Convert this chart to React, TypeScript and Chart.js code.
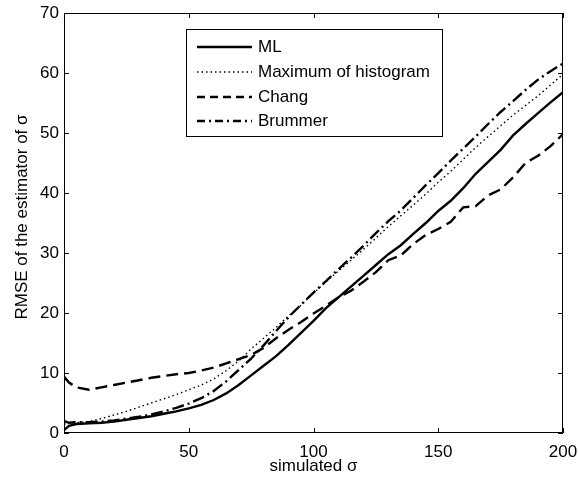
import React, { useEffect, useRef } from "react";
import { Chart, registerables } from "chart.js";

Chart.register(...registerables);

const sigma = [0, 2, 5, 10, 15, 20, 25, 30, 35, 40, 45, 50, 55, 60, 65, 70, 75, 80, 85, 90, 95, 100, 105, 110, 115, 120, 125, 130, 135, 140, 145, 150, 155, 160, 165, 170, 175, 180, 185, 190, 195, 200];

const mlValues = [0.5, 1.2, 1.5, 1.6, 1.7, 1.9, 2.2, 2.5, 2.8, 3.2, 3.6, 4.1, 4.7, 5.5, 6.6, 8.0, 9.6, 11.2, 12.8, 14.7, 16.7, 18.7, 20.8, 22.6, 24.4, 26.2, 28.0, 29.8, 31.3, 33.2, 35.0, 37.0, 38.7, 40.8, 43.2, 45.2, 47.2, 49.6, 51.5, 53.3, 55.1, 56.8];

const maxHistValues = [1.5, 1.6, 1.7, 1.9, 2.4, 3.0, 3.6, 4.3, 5.0, 5.7, 6.4, 7.2, 8.0, 9.0, 10.4, 12.0, 14.0, 15.8, 17.6, 19.5, 21.3, 23.3, 25.2, 27.0, 28.8, 30.6, 32.5, 34.4, 36.2, 38.0, 39.8, 41.8, 43.6, 45.6, 47.6, 49.4, 51.2, 53.0, 54.6, 56.2, 58.0, 59.8];

const changValues = [9.4, 8.4, 7.6, 7.2, 7.6, 8.0, 8.4, 8.8, 9.2, 9.5, 9.8, 10.0, 10.4, 10.9, 11.6, 12.3, 13.0, 14.2, 15.8, 17.2, 18.5, 19.9, 21.2, 22.6, 23.7, 25.2, 26.8, 28.8, 29.6, 31.5, 33.0, 34.0, 35.2, 37.6, 37.8, 39.6, 40.6, 42.6, 45.0, 46.2, 47.8, 49.8];

const brummerValues = [2.0, 1.7, 1.8, 1.8, 1.9, 2.1, 2.4, 2.7, 3.1, 3.6, 4.2, 4.9, 5.8, 7.0, 8.6, 10.5, 12.4, 14.6, 17.0, 19.3, 21.4, 23.4, 25.3, 27.3, 29.2, 31.2, 33.3, 35.3, 37.1, 39.2, 41.3, 43.3, 45.4, 47.4, 49.4, 51.5, 53.5, 55.3, 57.2, 58.9, 60.3, 61.6];

const seriesNames = ["ML", "Maximum of histogram", "Chang", "Brummer"];
const xTitle = "simulated σ";
const yTitle = "RMSE of the estimator of σ";

const FONT = "'Liberation Sans', Arial, Helvetica, sans-serif";

const styles = [
  { width: 2.4, dash: [] as number[], legendDash: [] as number[], color: "#000" },
  { width: 1.4, dash: [1.5, 3], legendDash: [1.5, 3], color: "#000" },
  { width: 2.4, dash: [12, 6], legendDash: [8, 5], color: "#000" },
  { width: 2.4, dash: [12, 4, 2, 4], legendDash: [8, 4, 2, 4], color: "#000" },
];

const framePlugin = {
  id: "matlabFrame",
  afterDraw(chart: any) {
    const ctx = chart.ctx;
    const { left, right, top, bottom } = chart.chartArea;
    const xs = chart.scales.x;
    const ys = chart.scales.y;
    ctx.save();
    ctx.strokeStyle = "#000";
    ctx.lineWidth = 1;
    ctx.setLineDash([]);
    ctx.strokeRect(left + 0.5, top + 0.5, right - left - 1, bottom - top - 1);
    const tl = 5;
    ctx.beginPath();
    for (const t of xs.ticks) {
      const px = Math.round(xs.getPixelForValue(t.value)) + 0.5;
      ctx.moveTo(px, bottom);
      ctx.lineTo(px, bottom - tl);
      ctx.moveTo(px, top);
      ctx.lineTo(px, top + tl);
    }
    for (const t of ys.ticks) {
      const py = Math.round(ys.getPixelForValue(t.value)) + 0.5;
      ctx.moveTo(left, py);
      ctx.lineTo(left + tl, py);
      ctx.moveTo(right, py);
      ctx.lineTo(right - tl, py);
    }
    ctx.stroke();

    // axis titles
    ctx.fillStyle = "#000";
    ctx.font = `17px ${FONT}`;
    ctx.textAlign = "center";
    ctx.textBaseline = "alphabetic";
    ctx.fillText(xTitle, (left + right) / 2, 471);
    ctx.save();
    ctx.translate(27, 217);
    ctx.rotate(-Math.PI / 2);
    ctx.fillText(yTitle, 0, 0);
    ctx.restore();

    // legend
    const bx = 186, by = 29, bw = 256, bh = 107;
    ctx.fillStyle = "#fff";
    ctx.fillRect(bx, by, bw, bh);
    ctx.strokeStyle = "#000";
    ctx.lineWidth = 1;
    ctx.strokeRect(bx + 0.5, by + 0.5, bw, bh);
    const rows = [47, 72, 97, 121];
    chart.data.datasets.forEach((ds: any, i: number) => {
      const y = rows[i];
      ctx.beginPath();
      ctx.strokeStyle = styles[i].color;
      ctx.lineWidth = styles[i].width;
      ctx.setLineDash(styles[i].legendDash);
      ctx.moveTo(197, y);
      ctx.lineTo(252, y);
      ctx.stroke();
      ctx.setLineDash([]);
      ctx.fillStyle = "#000";
      ctx.textAlign = "left";
      ctx.textBaseline = "middle";
      ctx.fillText(ds.label, 258, y);
    });
    ctx.restore();
  },
};

export default function App() {
  const ref = useRef<HTMLCanvasElement | null>(null);
  useEffect(() => {
    document.body.style.margin = "0";
    if (!ref.current) return;
    const allSeries = [mlValues, maxHistValues, changValues, brummerValues];
    const chart = new Chart(ref.current, {
      type: "line",
      data: {
        datasets: allSeries.map((vals, i) => ({
          label: seriesNames[i],
          data: sigma.map((s, j) => ({ x: s, y: vals[j] })),
          borderColor: styles[i].color,
          borderWidth: styles[i].width,
          borderDash: styles[i].dash,
          pointRadius: 0,
          fill: false,
          tension: 0,
        })),
      },
      options: {
        animation: false,
        responsive: true,
        maintainAspectRatio: false,
        layout: { padding: { left: 0, right: 15, top: 13, bottom: 0 } },
        plugins: { legend: { display: false }, tooltip: { enabled: false } },
        scales: {
          x: {
            type: "linear",
            min: 0,
            max: 200,
            grid: { display: false, drawTicks: false },
            border: { display: false },
            ticks: { stepSize: 50, color: "#000", font: { size: 17, family: FONT }, padding: 9, maxRotation: 0 },
            afterFit: (s: any) => { s.height = 46; s.paddingLeft = 0; s.paddingRight = 0; },
          },
          y: {
            type: "linear",
            min: 0,
            max: 70,
            grid: { display: false, drawTicks: false },
            border: { display: false },
            ticks: { stepSize: 10, color: "#000", font: { size: 17, family: FONT }, padding: 5 },
            afterFit: (s: any) => { s.width = 64; s.paddingTop = 0; s.paddingBottom = 0; },
          },
        },
      },
      plugins: [framePlugin],
    });
    return () => chart.destroy();
  }, []);
  return (
    <div style={{ width: 578, height: 479, position: "relative", background: "#fff" }}>
      <canvas ref={ref} />
    </div>
  );
}
